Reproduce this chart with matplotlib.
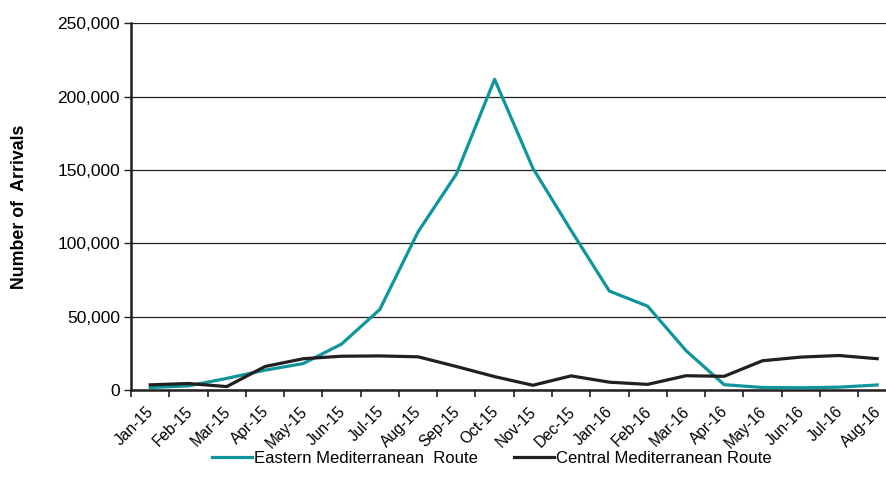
import numpy as np
import matplotlib.pyplot as plt
import matplotlib.transforms as mtransforms
from matplotlib.ticker import FuncFormatter, FixedLocator

plt.rcParams['font.family'] = ['Liberation Sans', 'DejaVu Sans']

months = ['Jan-15', 'Feb-15', 'Mar-15', 'Apr-15', 'May-15', 'Jun-15', 'Jul-15',
          'Aug-15', 'Sep-15', 'Oct-15', 'Nov-15', 'Dec-15', 'Jan-16', 'Feb-16',
          'Mar-16', 'Apr-16', 'May-16', 'Jun-16', 'Jul-16', 'Aug-16']
eastern = [1700, 2800, 7900, 13500, 18000, 31300, 54900, 107800, 147100, 211700,
           151200, 108700, 67400, 57100, 26900, 3600, 1700, 1500, 1900, 3400]
central = [3500, 4400, 2300, 16000, 21300, 23000, 23200, 22600, 16000, 9100,
           3200, 9600, 5300, 3800, 9700, 9300, 19900, 22400, 23500, 21300]

fig = plt.figure(figsize=(8.86, 4.93), dpi=100)
ax = fig.add_axes([0.148, 0.209, 0.852, 0.744])

x = np.arange(len(months))
ax.plot(x, eastern, color='#0f959c', lw=2.3, label='Eastern Mediterranean  Route', zorder=3)
ax.plot(x, central, color='#231f20', lw=2.3, label='Central Mediterranean Route', zorder=3)

ax.set_ylim(0, 250000)
ax.set_xlim(-0.5, 19.23)
ax.set_yticks(np.arange(0, 250001, 50000))
ax.yaxis.set_major_formatter(FuncFormatter(lambda v, p: f'{int(v):,}'))
ax.grid(axis='y', color='#231f20', lw=0.9)
ax.set_axisbelow(True)

ax.set_xticks(x)
ax.set_xticklabels(months, rotation=45, ha='right', rotation_mode='anchor', fontsize=11.2)
ax.tick_params(axis='x', which='major', length=0, pad=10)
# nudge the rotated labels a little to the left, so the last one stays inside
shift = mtransforms.ScaledTranslation(-0.04, 0, fig.dpi_scale_trans)
for lbl in ax.get_xticklabels():
    lbl.set_transform(lbl.get_transform() + shift)
ax.xaxis.set_minor_locator(FixedLocator(np.arange(-0.5, 20, 1)))
ax.tick_params(axis='x', which='minor', length=5, width=1.2, color='#231f20')
ax.tick_params(axis='y', length=5, width=1, color='#231f20', labelsize=12.5, pad=3)

for s in ['top', 'right']:
    ax.spines[s].set_visible(False)
for s in ['left', 'bottom']:
    ax.spines[s].set_linewidth(1.8)
    ax.spines[s].set_color('#231f20')

ax.set_ylabel('Number of  Arrivals', fontsize=12.8, fontweight='bold')
ax.yaxis.set_label_coords(-0.137, 0.499)

fig.legend(loc='center', bbox_to_anchor=(0.555, 0.07), ncol=2, frameon=False,
           fontsize=12, handlelength=2.4, handletextpad=0.1, columnspacing=2.2)

fig.savefig('out.png', dpi=100)
